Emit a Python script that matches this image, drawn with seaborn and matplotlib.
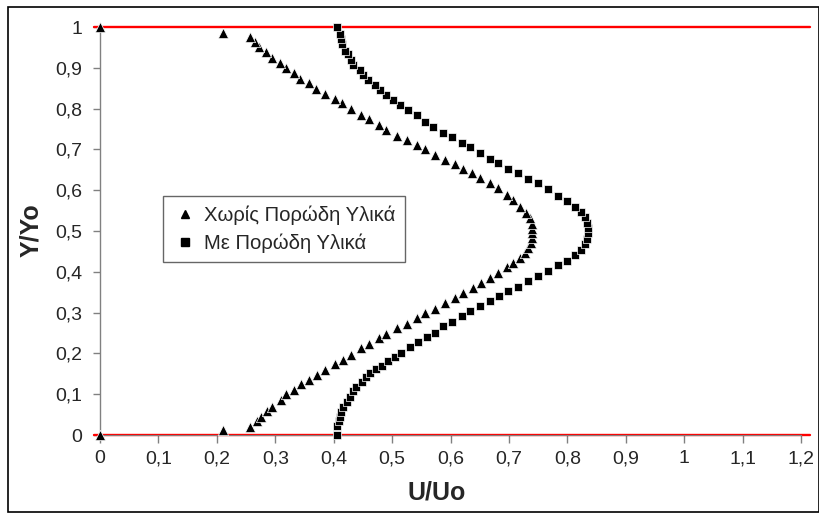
import matplotlib
matplotlib.use("Agg")
import matplotlib.pyplot as plt
import seaborn as sns
import pandas as pd
from matplotlib.patches import Rectangle
from matplotlib.lines import Line2D

# ---- data ----
series_names = ["Χωρίς Πορώδη Υλικά", "Με Πορώδη Υλικά"]

tri_x = [0.000, 0.210,
         0.257, 0.268, 0.276, 0.285, 0.295, 0.309, 0.319, 0.332, 0.344, 0.357,
         0.372, 0.385, 0.402, 0.416, 0.429, 0.446, 0.461, 0.477, 0.490, 0.508,
         0.525, 0.542, 0.556, 0.573, 0.590, 0.607, 0.622, 0.639, 0.653, 0.667,
         0.682, 0.696, 0.707, 0.719, 0.727, 0.733, 0.737, 0.739, 0.740,
         0.740, 0.739, 0.736, 0.730, 0.719, 0.707, 0.696, 0.682, 0.667, 0.650,
         0.636, 0.622, 0.607, 0.590, 0.573, 0.556, 0.542, 0.525, 0.508, 0.490,
         0.477, 0.460, 0.446, 0.429, 0.415, 0.402, 0.385, 0.370, 0.357, 0.343,
         0.332, 0.319, 0.308, 0.295, 0.284, 0.273, 0.265, 0.257,
         0.210, 0.000]
tri_y = [0.000, 0.012,
         0.020, 0.035, 0.045, 0.059, 0.069, 0.086, 0.100, 0.110, 0.124, 0.135,
         0.147, 0.159, 0.174, 0.184, 0.196, 0.213, 0.222, 0.237, 0.248, 0.262,
         0.271, 0.286, 0.298, 0.309, 0.323, 0.335, 0.347, 0.360, 0.372, 0.384,
         0.396, 0.412, 0.421, 0.433, 0.445, 0.458, 0.470, 0.482, 0.494,
         0.506, 0.518, 0.531, 0.543, 0.560, 0.576, 0.588, 0.605, 0.618, 0.629,
         0.641, 0.651, 0.663, 0.674, 0.686, 0.700, 0.711, 0.723, 0.733, 0.748,
         0.760, 0.774, 0.784, 0.798, 0.813, 0.823, 0.837, 0.847, 0.862, 0.872,
         0.887, 0.899, 0.911, 0.925, 0.938, 0.952, 0.964, 0.975,
         0.985, 1.000]

sq_x = [0.405,
        0.406, 0.409, 0.410, 0.413, 0.416, 0.422, 0.428, 0.433, 0.439, 0.448,
        0.455, 0.463, 0.473, 0.482, 0.493, 0.505, 0.516, 0.530, 0.545, 0.559,
        0.573, 0.587, 0.602, 0.619, 0.633, 0.650, 0.667, 0.683, 0.699, 0.716,
        0.733, 0.750, 0.767, 0.784, 0.799, 0.813, 0.824, 0.830, 0.833, 0.835,
        0.835, 0.833, 0.830, 0.824, 0.813, 0.799, 0.784, 0.767, 0.750, 0.733,
        0.716, 0.699, 0.682, 0.667, 0.650, 0.633, 0.619, 0.602, 0.587, 0.570,
        0.556, 0.542, 0.527, 0.513, 0.502, 0.490, 0.479, 0.470, 0.459, 0.450,
        0.445, 0.433, 0.430, 0.425, 0.419, 0.414, 0.412, 0.410,
        0.405]
sq_y = [0.000,
        0.022, 0.034, 0.045, 0.057, 0.069, 0.082, 0.094, 0.109, 0.118, 0.131,
        0.141, 0.153, 0.161, 0.169, 0.182, 0.192, 0.202, 0.216, 0.227, 0.241,
        0.251, 0.267, 0.278, 0.292, 0.305, 0.317, 0.329, 0.341, 0.354, 0.363,
        0.377, 0.390, 0.402, 0.417, 0.427, 0.441, 0.453, 0.468, 0.480, 0.494,
        0.508, 0.520, 0.534, 0.547, 0.560, 0.574, 0.586, 0.602, 0.617, 0.627,
        0.641, 0.651, 0.666, 0.676, 0.690, 0.705, 0.716, 0.730, 0.739, 0.756,
        0.768, 0.784, 0.797, 0.809, 0.821, 0.833, 0.846, 0.858, 0.870, 0.882,
        0.895, 0.907, 0.919, 0.933, 0.942, 0.958, 0.971, 0.983,
        1.000]

ref_lines_y = [0.0, 1.0]

x_ticks = [0, 0.1, 0.2, 0.3, 0.4, 0.5, 0.6, 0.7, 0.8, 0.9, 1.0, 1.1, 1.2]
x_tick_labels = ["0", "0,1", "0,2", "0,3", "0,4", "0,5", "0,6", "0,7",
                 "0,8", "0,9", "1", "1,1", "1,2"]
y_ticks = [0, 0.1, 0.2, 0.3, 0.4, 0.5, 0.6, 0.7, 0.8, 0.9, 1.0]
y_tick_labels = ["0", "0,1", "0,2", "0,3", "0,4", "0,5", "0,6", "0,7",
                 "0,8", "0,9", "1"]
x_label = "U/Uo"
y_label = "Y/Yo"

# ---- styling ----
sns.set_style("white")
plt.rcParams['font.family'] = ['Liberation Sans', 'DejaVu Sans']

fig = plt.figure(figsize=(8.2, 5.13), dpi=100)
fig.patch.set_facecolor("white")
ax = fig.add_axes([94 / 820, 78 / 513, 716 / 820, 408 / 513])
ax.set_facecolor("white")

df_tri = pd.DataFrame({"x": tri_x, "y": tri_y})
df_sq = pd.DataFrame({"x": sq_x, "y": sq_y})

for yv in ref_lines_y:
    ax.axhline(yv, color="#ff0000", lw=1.7, zorder=2, clip_on=False)

sns.scatterplot(data=df_tri, x="x", y="y", marker="^", color="black", s=54,
                edgecolor="white", linewidth=0.5, ax=ax, zorder=4,
                clip_on=False, legend=False)
sns.scatterplot(data=df_sq, x="x", y="y", marker="s", color="black", s=40,
                edgecolor="white", linewidth=0.5, ax=ax, zorder=3,
                clip_on=False, legend=False)

ax.set_xlim(-0.0103, 1.2154)
ax.set_ylim(0, 1)

for side in ["top", "right"]:
    ax.spines[side].set_visible(False)
ax.spines["left"].set_position(("data", 0))
ax.spines["left"].set_color("#808080")
ax.spines["left"].set_linewidth(1.0)
ax.spines["bottom"].set_position(("data", 0))
ax.spines["bottom"].set_color("#808080")
ax.spines["bottom"].set_bounds(0, 1.2)

ax.set_xticks(x_ticks)
ax.set_xticklabels(x_tick_labels)
ax.set_yticks(y_ticks)
ax.set_yticklabels(y_tick_labels)
ax.tick_params(axis="x", direction="out", length=6, width=1, color="#808080",
               labelsize=14, pad=5, bottom=True)
ax.tick_params(axis="y", direction="out", length=5, width=1, color="#808080",
               labelsize=14, pad=8, left=True)

ax.set_xlabel("")
ax.set_ylabel("")
fig.text(437 / 820, 1 - 492 / 513, x_label, fontsize=18, fontweight="bold",
         ha="center", va="center")
fig.text(31 / 820, 1 - 230 / 513, y_label, fontsize=18, fontweight="bold",
         ha="center", va="center", rotation=90)

handles = [
    Line2D([], [], marker="^", color="black", linestyle="none", markersize=6),
    Line2D([], [], marker="s", color="black", linestyle="none", markersize=5.5),
]
leg = ax.legend(handles, series_names, loc="upper left",
                bbox_to_anchor=((162.7 - 94) / 716, (435 - 196) / 408),
                fontsize=14.6, frameon=True, fancybox=False, borderpad=0.45,
                handletextpad=0.3, handlelength=1.3, labelspacing=0.42,
                borderaxespad=0)
leg.get_frame().set_edgecolor("#404040")
leg.get_frame().set_linewidth(1.0)

fig.patches.append(Rectangle((8 / 820, 1 / 513), 811 / 820, 505 / 513,
                             transform=fig.transFigure, fill=False,
                             edgecolor="black", linewidth=1.2))

fig.savefig("out.png", dpi=100)
